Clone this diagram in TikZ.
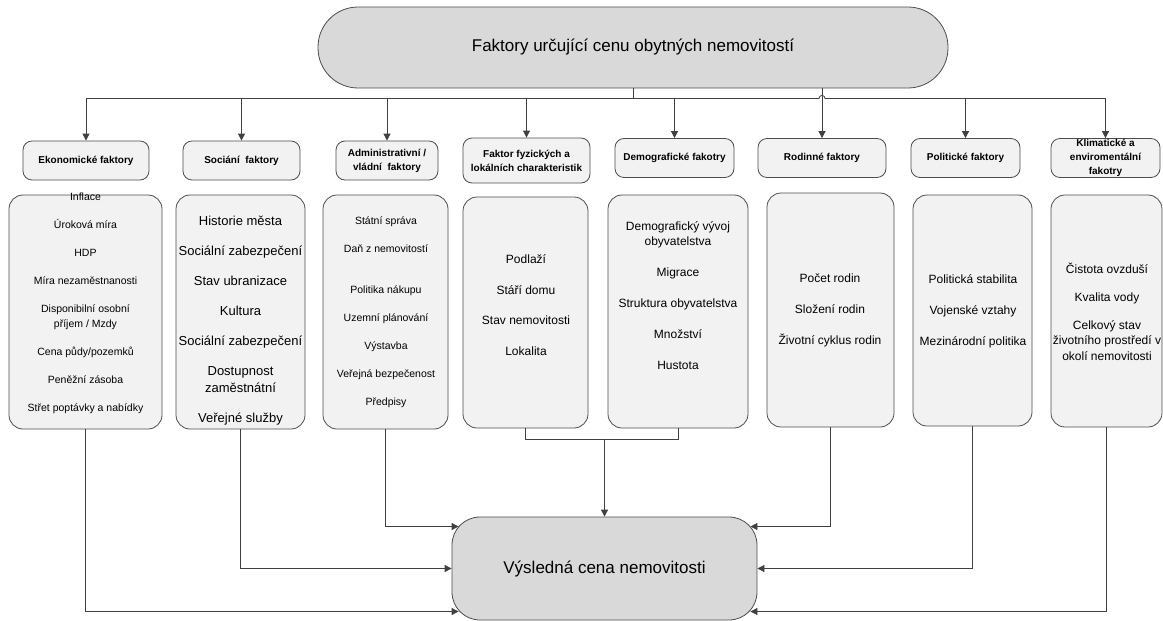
\documentclass[tikz,border=0pt]{standalone}
\usepackage{fontspec}
\setmainfont{Liberation Sans}
\usetikzlibrary{arrows.meta}
\definecolor{boxfill}{HTML}{F2F2F2}
\definecolor{mainfill}{HTML}{D9D9D9}
\definecolor{edgegray}{HTML}{4D4D4D}
\tikzset{
  mainbox/.style={draw=edgegray, fill=mainfill, line width=0.8pt, rounded corners=28pt, inner sep=0pt, font=\fontsize{17}{20}\selectfont},
  headbox/.style={draw=edgegray, fill=boxfill, line width=0.8pt, rounded corners=9pt, inner sep=0pt, align=center, font=\fontsize{10}{14}\selectfont\bfseries},
  listbox/.style={draw=edgegray, fill=boxfill, line width=0.8pt, rounded corners=14pt, inner sep=0pt},
  listtext/.style={align=center, inner sep=0pt, font=\fontsize{12}{15}\selectfont},
  link/.style={line width=0.8pt, draw=black!75},
  linkarrow/.style={link, -{Triangle[length=7pt, width=7pt]}}
}

\begin{document}
\begin{tikzpicture}[x=1pt, y=-1pt]
  \useasboundingbox (0,0) rectangle (1163,621);

  \node[mainbox, rounded corners=40pt, minimum width=630pt, minimum height=81pt] (title) at (633,47.5) {Faktory určující cenu obytných nemovitostí};
  \node[mainbox, minimum width=305pt, minimum height=103pt] (result) at (604.5,568.5) {Výsledná cena nemovitosti};

  \node[headbox, minimum width=126pt, minimum height=39pt] (ekon) at (86,160.5) {Ekonomické faktory};
  \node[headbox, minimum width=117pt, minimum height=39pt] (soc) at (241.5,160.5) {Sociání~ faktory};
  \node[headbox, minimum width=102pt, minimum height=39pt] (adm) at (387,160.5) {Administrativní /\\vládní~ faktory};
  \node[headbox, minimum width=127pt, minimum height=45pt] (fyz) at (526.5,160.5) {Faktor fyzických a\\lokálních charakteristik};
  \node[headbox, minimum width=119pt, minimum height=39pt] (demo) at (674.5,158) {Demografické fakotry};
  \node[headbox, minimum width=128pt, minimum height=39pt] (rod) at (822,158) {Rodinné faktory};
  \node[headbox, minimum width=109pt, minimum height=39pt] (pol) at (965.5,158) {Politické faktory};
  \node[headbox, minimum width=109pt, minimum height=39pt] (klim) at (1105.5,158) {Klimatické a\\enviromentální\\fakotry};

  \node[listbox, minimum width=153pt, minimum height=234pt] (ekonbox) at (85.5,312) {};
  \node[listbox, minimum width=129pt, minimum height=234pt] (socbox) at (240.5,312) {};
  \node[listbox, minimum width=125pt, minimum height=234pt] (admbox) at (385.5,312) {};
  \node[listbox, minimum width=125pt, minimum height=231pt] (fyzbox) at (525.5,312.5) {};
  \node[listbox, minimum width=140pt, minimum height=233pt] (demobox) at (678,311.5) {};
  \node[listbox, minimum width=127pt, minimum height=234pt] (rodbox) at (830.5,310) {};
  \node[listbox, minimum width=119pt, minimum height=231pt] (polbox) at (972.5,310.5) {};
  \node[listbox, minimum width=111pt, minimum height=232pt] (klimbox) at (1106.5,311) {};

  \node[listtext, font=\fontsize{10.5}{15}\selectfont] (ekontxt) at (85.5,303.5) {Inflace\\[13pt] Úroková míra\\[13pt] HDP\\[13pt] Míra nezaměstnanosti\\[13pt] Disponibilní osobní\\ příjem / Mzdy\\[13pt] Cena půdy/pozemků\\[13pt] Peněžní zásoba\\[13pt] Střet poptávky a nabídky};
  \node[listtext, font=\fontsize{13}{17}\selectfont] (soctxt) at (240.5,321) {Historie města\\[13pt] Sociální zabezpečení\\[13pt] Stav ubranizace\\[13pt] Kultura\\[13pt] Sociální zabezpečení\\[13pt] Dostupnost\\ zaměstnátní\\[13pt] Veřejné služby};
  \node[listtext, font=\fontsize{10.5}{14}\selectfont] (admtxt) at (386,312.5) {Státní správa\\[14pt] Daň z nemovitostí\\[27pt] Politika nákupu\\[14pt] Uzemní plánování\\[14pt] Výstavba\\[14pt] Veřejná bezpečenost\\[14pt] Předpisy};
  \node[listtext] (fyztxt) at (526,305) {Podlaží\\[15.5pt] Stáří domu\\[15.5pt] Stav nemovitosti\\[15.5pt] Lokalita};
  \node[listtext] (demotxt) at (678,296) {Demografický vývoj\\ obyvatelstva\\[16pt] Migrace\\[16pt] Struktura obyvatelstva\\[16pt] Množství\\[16pt] Hustota};
  \node[listtext] (rodtxt) at (830,310) {Počet rodin\\[16pt] Složení rodin\\[16pt] Životní cyklus rodin};
  \node[listtext] (poltxt) at (973,311) {Politická stabilita\\[16pt] Vojenské vztahy\\[16pt] Mezinárodní politika};
  \node[listtext, font=\fontsize{12}{15.5}\selectfont] (klimtxt) at (1107,311.5) {Čistota ovzduší\\[12.5pt] Kvalita vody\\[12.5pt] Celkový stav\\ životního prostředí v\\ okolí nemovitosti};

  \draw[link] (title.south) -- ++(0,10) coordinate (hub);
  \draw[link] (ekon.north |- hub) -- ([xshift=-3pt]rod.north |- hub) arc[start angle=180, end angle=0, radius=3pt] -- (klim.north |- hub);
  \foreach \n in {ekon,soc,adm,fyz,demo,pol,klim}
    \draw[linkarrow] (\n.north |- hub) -- (\n.north);
  \draw[linkarrow] (title.south -| rod.north) -- (rod.north);

  \draw[linkarrow] (ekonbox.south) |- ([shift={(7pt,-43pt)}]result.west);
  \draw[linkarrow] (socbox.south) |- (result.west);
  \draw[linkarrow] (admbox.south) |- ([shift={(7pt,42pt)}]result.west);
  \draw[link] (fyzbox.south) -- ++(0,11) -| (demobox.south);
  \draw[linkarrow] ([yshift=-11pt]fyzbox.south -| result.north) -- (result.north);
  \draw[linkarrow] (rodbox.south) |- ([shift={(-7pt,42pt)}]result.east);
  \draw[linkarrow] (polbox.south) |- (result.east);
  \draw[linkarrow] (klimbox.south) |- ([shift={(-7pt,-43pt)}]result.east);
\end{tikzpicture}
\end{document}
